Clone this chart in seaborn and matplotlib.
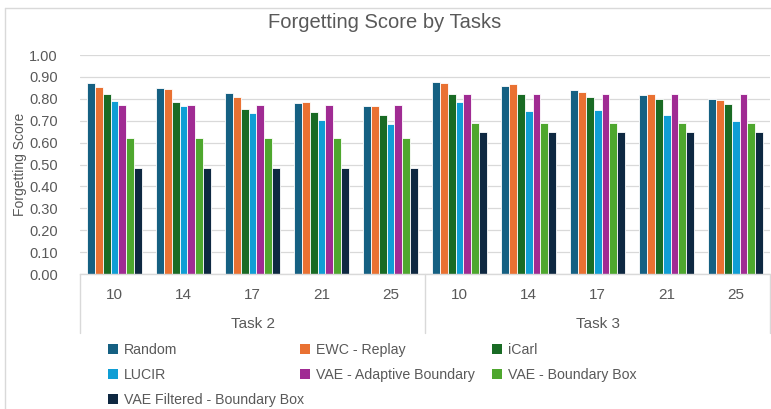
import numpy as np
import pandas as pd
import matplotlib
matplotlib.use("Agg")
import matplotlib.pyplot as plt
from matplotlib.lines import Line2D
from matplotlib.patches import Patch
import seaborn as sns

# =========================================
# DATA
# =========================================

tasks = ["Task 2", "Task 3"]
class_counts = ["10", "14", "17", "21", "25"]

methods = [
    "Random",
    "EWC - Replay",
    "iCarl",
    "LUCIR",
    "VAE - Adaptive Boundary",
    "VAE - Boundary Box",
    "VAE Filtered - Boundary Box",
]

# values per method, order: Task 2 (10,14,17,21,25), Task 3 (10,14,17,21,25)
random_scores = [0.872, 0.850, 0.827, 0.782, 0.766, 0.879, 0.859, 0.838, 0.818, 0.798]
ewc_scores = [0.852, 0.844, 0.809, 0.786, 0.766, 0.873, 0.869, 0.830, 0.823, 0.794]
icarl_scores = [0.824, 0.787, 0.752, 0.739, 0.725, 0.820, 0.823, 0.807, 0.797, 0.777]
lucir_scores = [0.789, 0.768, 0.737, 0.705, 0.683, 0.786, 0.743, 0.749, 0.725, 0.700]
vae_adaptive_scores = [0.772, 0.772, 0.772, 0.772, 0.772, 0.823, 0.823, 0.823, 0.823, 0.823]
vae_box_scores = [0.619, 0.619, 0.619, 0.619, 0.619, 0.688, 0.688, 0.688, 0.688, 0.688]
vae_filtered_scores = [0.483, 0.483, 0.483, 0.483, 0.483, 0.647, 0.647, 0.647, 0.647, 0.647]

colors = ["#156082", "#E97132", "#196B24", "#0F9ED5", "#A02B93", "#4EA72E", "#0E2841"]

# =========================================
# BUILD LONG TABLE
# =========================================

groups = [f"{t}|{c}" for t in tasks for c in class_counts]
all_scores = [
    random_scores, ewc_scores, icarl_scores, lucir_scores,
    vae_adaptive_scores, vae_box_scores, vae_filtered_scores,
]

rows = []
for m, vals in zip(methods, all_scores):
    for g, v in zip(groups, vals):
        rows.append({"group": g, "method": m, "score": v})
df = pd.DataFrame(rows)

# =========================================
# PLOT
# =========================================

sns.set_theme(style="white")
plt.rcParams["font.family"] = ["Liberation Sans", "DejaVu Sans"]

text_color = "#595959"
line_color = "#D9D9D9"

fig = plt.figure(figsize=(7.71, 4.09), dpi=100)
ax = fig.add_axes([0.1038, 0.330, 0.895, 0.5355])

sns.barplot(
    data=df,
    x="group",
    y="score",
    hue="method",
    order=groups,
    hue_order=methods,
    palette=colors,
    width=0.8,
    edgecolor="white",
    linewidth=0.6,
    saturation=1,
    legend=False,
    ax=ax,
)

ax.set_ylim(0, 1.0)
ax.set_xlim(-0.5, len(groups) - 0.5)
ax.set_yticks(np.arange(0, 1.01, 0.1))
ax.set_yticklabels([f"{v:.2f}" for v in np.arange(0, 1.01, 0.1)])
ax.yaxis.grid(True, color=line_color, linewidth=0.9)
ax.set_axisbelow(True)

ax.set_xticks(range(len(groups)))
ax.set_xticklabels(class_counts * len(tasks))

ax.tick_params(axis="y", length=0, pad=16, labelsize=10.5, labelcolor=text_color)
ax.tick_params(axis="x", length=0, pad=10, labelsize=11, labelcolor=text_color)

for side in ["top", "right", "left"]:
    ax.spines[side].set_visible(False)
ax.spines["bottom"].set_color(line_color)
ax.spines["bottom"].set_linewidth(1.0)

ax.set_xlabel("")
ax.set_ylabel("Forgetting Score", fontsize=10, color=text_color)
ax.yaxis.set_label_coords(-0.077, 0.5)

fig.text(385 / 771, 1 - 23 / 409, "Forgetting Score by Tasks", fontsize=14.5,
         color=text_color, ha="center", va="center",
         family=["Liberation Sans Narrow", "Liberation Sans", "DejaVu Sans"])

# multi-level category separators and task labels
trans = ax.get_xaxis_transform()
for xpos in [-0.5, 4.5, 9.5]:
    ax.plot([xpos, xpos], [0, -0.27], transform=trans, color=line_color,
            linewidth=1.0, clip_on=False)
for i, t in enumerate(tasks):
    ax.text(i * 5 + 2, -0.23, t, transform=trans, ha="center", va="center",
            fontsize=11, color=text_color)

# chart area border (top and left visible)
fig.add_artist(Line2D([5 / 771, 1], [1 - 8 / 409, 1 - 8 / 409],
                      transform=fig.transFigure, color=line_color, linewidth=1))
fig.add_artist(Line2D([5 / 771, 5 / 771], [0, 1 - 8 / 409],
                      transform=fig.transFigure, color=line_color, linewidth=1))

# legend in three columns with equal spacing
handles = [Patch(facecolor=c, edgecolor="none") for c in colors]
col_x = [108, 300, 492]
for col in range(3):
    idx = list(range(col, len(methods), 3))
    leg = fig.legend(
        [handles[i] for i in idx],
        [methods[i] for i in idx],
        loc="upper left",
        bbox_to_anchor=(col_x[col] / 771, 1 - 343 / 409),
        frameon=False,
        fontsize=10.2,
        handlelength=0.7,
        handleheight=0.7,
        handletextpad=0.4,
        labelspacing=0.78,
        borderaxespad=0,
        borderpad=0,
    )
    for txt in leg.get_texts():
        txt.set_color(text_color)

fig.savefig("out.png", dpi=100)
